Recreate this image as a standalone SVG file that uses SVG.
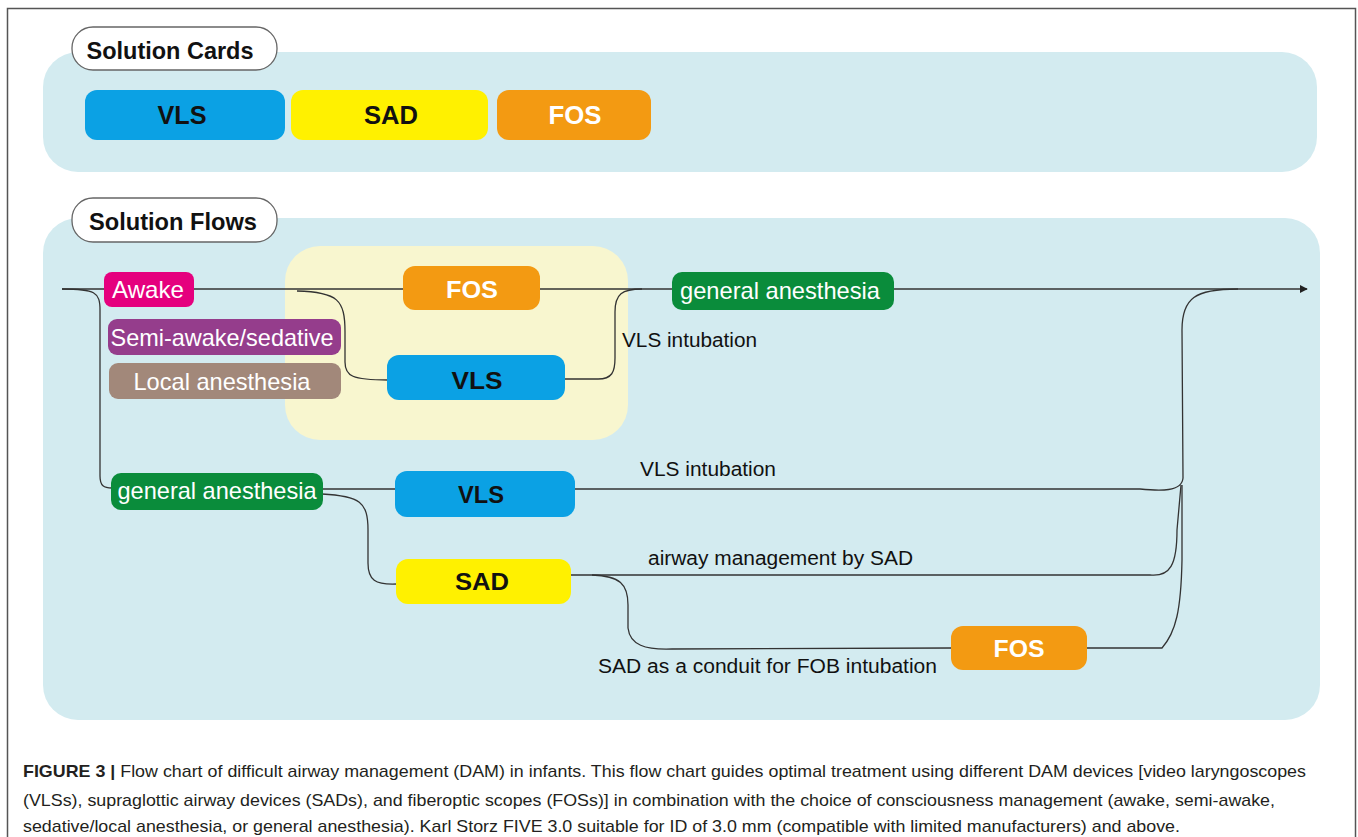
<svg xmlns="http://www.w3.org/2000/svg" width="1358" height="837" viewBox="0 0 1358 837">
<defs>
<marker id="arr" viewBox="0 0 10 10" refX="9" refY="5" markerWidth="8" markerHeight="8" markerUnits="userSpaceOnUse" orient="auto">
<path d="M0,0 L10,5 L0,10 z" fill="#222"/>
</marker>
</defs>
<style>
.panel{fill:#d3ebf0}
.pill{fill:#fff;stroke:#666;stroke-width:1.3}
.t{font-family:"Liberation Sans Narrow","Liberation Sans",Arial,sans-serif;text-anchor:middle}
.tl{font-family:"Liberation Sans Narrow","Liberation Sans",Arial,sans-serif}
.b{font-weight:bold}
.w{fill:#fff}
.k{fill:#111}
.vls{fill:#0ba1e4}
.sad{fill:#fff100}
.fos{fill:#f39a12}
.conn path{fill:none;stroke:#333;stroke-width:1.3}
.cap{font-family:"Liberation Sans",Arial,sans-serif;font-size:17px;fill:#231f20}
</style>
<rect x="0" y="0" width="1358" height="837" fill="#fff"/>
<rect x="7.5" y="8.5" width="1348" height="840" fill="none" stroke="#555" stroke-width="1.5"/>

<g id="cards-panel">
<rect class="panel" x="43" y="52" width="1274" height="120" rx="35"/>
<rect class="pill" x="72" y="27" width="205" height="43" rx="21"/>
<text class="t b k" x="170" y="59" font-size="24" textLength="167" lengthAdjust="spacingAndGlyphs">Solution Cards</text>
</g>
<g id="card-vls"><rect class="vls" x="85" y="90" width="200" height="50" rx="12"/><text class="t b k" x="182" y="124" font-size="25" textLength="49" lengthAdjust="spacingAndGlyphs">VLS</text></g>
<g id="card-sad"><rect class="sad" x="291" y="90" width="197" height="50" rx="12"/><text class="t b k" x="391" y="124" font-size="25" textLength="54" lengthAdjust="spacingAndGlyphs">SAD</text></g>
<g id="card-fos"><rect class="fos" x="497" y="90" width="154" height="50" rx="12"/><text class="t b w" x="575" y="124" font-size="25" textLength="53" lengthAdjust="spacingAndGlyphs">FOS</text></g>

<g id="flows-panel">
<rect class="panel" x="43" y="218" width="1277" height="502" rx="35"/>
<rect class="pill" x="72" y="198" width="205" height="44" rx="21"/>
<text class="t b k" x="173" y="230" font-size="24" textLength="168" lengthAdjust="spacingAndGlyphs">Solution Flows</text>
<rect x="285" y="246" width="343" height="194" rx="35" fill="#f8f6cf"/>
</g>

<g class="conn" id="connectors">
<path d="M62,289 L1307,289" marker-end="url(#arr)"/>
<path d="M62,289 C95,289 100,292 100,310 L100,476 C100,486 104,488 112,488"/>
<path d="M297,291 C338,292 345,300 345,332 L345,362 C345,376 352,380 388,380"/>
<path d="M564,379 L598,379 C612,379 615,372 615,358 L615,312 C615,294 622,289 642,289"/>
<path d="M322,489 L396,489"/>
<path d="M322,494 C360,496 368,502 368,530 L368,563 C368,580 375,585 397,584"/>
<path d="M574,489 L1140,489 C1160,491 1182,492 1183,478 L1182,330 C1182,298 1195,289 1238,289"/>
<path d="M570,575 L1150,575 C1170,577 1177,565 1177,530 L1181,485"/>
<path d="M592,575 C620,576 628,584 628,605 L628,628 C630,645 645,650 672,649 L952,648"/>
<path d="M1086,648 L1162,648 C1176,632 1181,610 1182,560 L1182,485"/>
</g>

<g id="awake"><rect x="104" y="272" width="90" height="35" rx="8" fill="#e5007e"/><text class="t w" x="148" y="298" font-size="24" textLength="72" lengthAdjust="spacingAndGlyphs">Awake</text></g>
<g id="semi"><rect x="108" y="319" width="233" height="36" rx="9" fill="#953d8c"/><text class="t w" x="222" y="346" font-size="24" textLength="223" lengthAdjust="spacingAndGlyphs">Semi-awake/sedative</text></g>
<g id="local"><rect x="109" y="363" width="232" height="36" rx="9" fill="#a2887a"/><text class="t w" x="222" y="390" font-size="24" textLength="177" lengthAdjust="spacingAndGlyphs">Local anesthesia</text></g>
<g id="fos1"><rect class="fos" x="403" y="266" width="137" height="44" rx="12"/><text class="t b w" x="472" y="298" font-size="24" textLength="52" lengthAdjust="spacingAndGlyphs">FOS</text></g>
<g id="vls1"><rect class="vls" x="387" y="355" width="178" height="45" rx="12"/><text class="t b k" x="477" y="389" font-size="24" textLength="51" lengthAdjust="spacingAndGlyphs">VLS</text></g>
<g id="ga1"><rect x="672" y="272" width="222" height="38" rx="10" fill="#0a8c3b"/><text class="t w" x="780" y="299" font-size="24" textLength="200" lengthAdjust="spacingAndGlyphs">general anesthesia</text></g>
<g id="ga2"><rect x="111" y="473" width="212" height="37" rx="10" fill="#0a8c3b"/><text class="t w" x="217" y="499" font-size="24" textLength="199" lengthAdjust="spacingAndGlyphs">general anesthesia</text></g>
<g id="vls2"><rect class="vls" x="395" y="471" width="180" height="46" rx="12"/><text class="t b k" x="481" y="503" font-size="24" textLength="46" lengthAdjust="spacingAndGlyphs">VLS</text></g>
<g id="sad1"><rect class="sad" x="396" y="559" width="175" height="45" rx="12"/><text class="t b k" x="482" y="590" font-size="24" textLength="54" lengthAdjust="spacingAndGlyphs">SAD</text></g>
<g id="fos2"><rect class="fos" x="951" y="626" width="136" height="44" rx="12"/><text class="t b w" x="1019" y="657" font-size="24" textLength="51" lengthAdjust="spacingAndGlyphs">FOS</text></g>

<g id="labels">
<text class="tl k" x="622" y="347" font-size="20" textLength="135" lengthAdjust="spacingAndGlyphs">VLS intubation</text>
<text class="tl k" x="640" y="476" font-size="20" textLength="136" lengthAdjust="spacingAndGlyphs">VLS intubation</text>
<text class="tl k" x="648" y="565" font-size="20" textLength="265" lengthAdjust="spacingAndGlyphs">airway management by SAD</text>
<text class="tl k" x="598" y="673" font-size="20" textLength="339" lengthAdjust="spacingAndGlyphs">SAD as a conduit for FOB intubation</text>
</g>

<g id="caption">
<text class="cap" x="23" y="777" textLength="1283" lengthAdjust="spacingAndGlyphs"><tspan font-weight="bold">FIGURE 3 |</tspan> Flow chart of difficult airway management (DAM) in infants. This flow chart guides optimal treatment using different DAM devices [video laryngoscopes</text>
<text class="cap" x="23" y="806" textLength="1252" lengthAdjust="spacingAndGlyphs">(VLSs), supraglottic airway devices (SADs), and fiberoptic scopes (FOSs)] in combination with the choice of consciousness management (awake, semi-awake,</text>
<text class="cap" x="23" y="832" textLength="1157" lengthAdjust="spacingAndGlyphs">sedative/local anesthesia, or general anesthesia). Karl Storz FIVE 3.0 suitable for ID of 3.0 mm (compatible with limited manufacturers) and above.</text>
</g>
</svg>
